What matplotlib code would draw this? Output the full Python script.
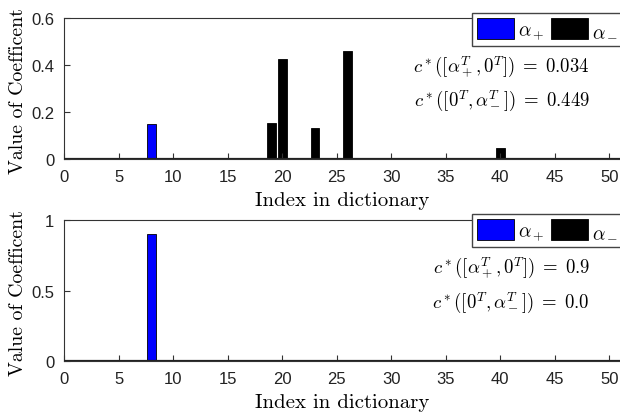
import numpy as np
import matplotlib.pyplot as plt
from matplotlib.patches import Patch

plt.rcParams['mathtext.fontset'] = 'cm'
plt.rcParams['font.family'] = ['Liberation Sans', 'DejaVu Sans']

idx = np.arange(1, 51)

# nonzero coefficients (index -> value)
pos_top = {8: 0.15}
neg_top = {19: 0.155, 20: 0.425, 23: 0.132, 26: 0.46, 40: 0.047}
pos_bot = {8: 0.9}
neg_bot = {}

txt_top = [r"$c^*([\alpha_+^T,0^T])\;=\;0.034$", r"$c^*([0^T,\alpha_-^T])\;=\;0.449$"]
txt_bot = [r"$c^*([\alpha_+^T,0^T])\;=\;0.9$", r"$c^*([0^T,\alpha_-^T])\;=\;0.0$"]


def coef(d):
    return np.array([d.get(i, 0.0) for i in idx])


fig = plt.figure(figsize=(6.2, 4.14), dpi=100)
W, H = 620, 414


def make_ax(top_px, bot_px):
    left, right = 64, 664
    return fig.add_axes([left / W, 1 - bot_px / H, (right - left) / W, (bot_px - top_px) / H])


def draw(ax, pos, neg, ymax, yticks, lines, lines_y):
    ax.bar(idx, coef(neg), width=0.8, color='black', edgecolor='black', linewidth=0.6)
    ax.bar(idx, coef(pos), width=0.8, color='#0000ff', edgecolor='black', linewidth=0.6)
    ax.axhline(0, color='#222222', lw=1.6, zorder=3)
    ax.set_xlim(0, 55)
    ax.set_ylim(0, ymax)
    ax.set_xticks(np.arange(0, 51, 5))
    ax.set_yticks(yticks)
    ax.set_yticklabels([('%g' % v) for v in yticks])
    ax.tick_params(direction='in', length=4, labelsize=12, color='#333333', labelcolor='#222222')
    ax.tick_params(axis='x', pad=7)
    ax.tick_params(axis='y', pad=7)
    for s in ax.spines.values():
        s.set_linewidth(0.8)
        s.set_color('#333333')
    ax.set_xlabel('Index in dictionary', family='cmr10', fontsize=15)
    ax.xaxis.set_label_coords(0.463, -0.225)
    ax.set_ylabel('Value of Coefficent', family='cmr10', fontsize=14.3)
    ax.yaxis.set_label_coords(-0.061, 0.49)
    for t, y in zip(lines, lines_y):
        fig.text(590 / W, 1 - y / H, t, ha='right', va='center', fontsize=13.5)
    handles = [Patch(facecolor='#0000ff', edgecolor='black', lw=0.6),
               Patch(facecolor='black', edgecolor='black', lw=0.6)]
    return handles


ax1 = make_ax(19, 160)
h = draw(ax1, pos_top, neg_top, 0.6, [0, 0.2, 0.4, 0.6], txt_top, [67, 101])
ax2 = make_ax(221, 362)
draw(ax2, pos_bot, neg_bot, 1.0, [0, 0.5, 1], txt_bot, [268, 303])

for ax, ytop in [(ax1, 14), (ax2, 215)]:
    ax.legend(h, [r"$\alpha_+$", r"$\alpha_-$"], ncol=2, loc='upper left',
              bbox_to_anchor=(472 / W, 1 - ytop / H), bbox_transform=fig.transFigure,
              fontsize=14, frameon=True, fancybox=False, edgecolor='#444444',
              framealpha=1, handlelength=1.9, handleheight=1.3, handletextpad=0.2,
              columnspacing=0.35, borderpad=0.25, borderaxespad=0)

fig.savefig('out.png', dpi=100)
